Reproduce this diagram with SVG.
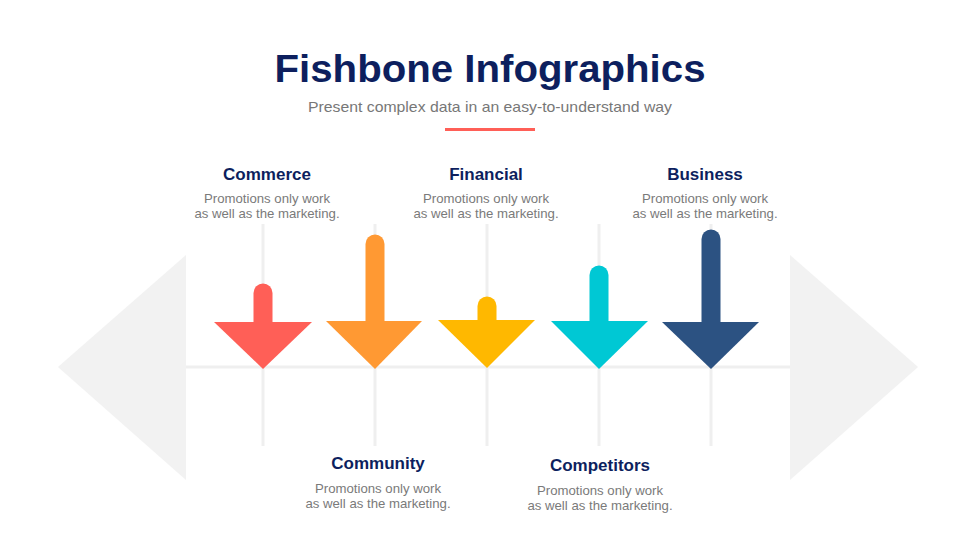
<svg xmlns="http://www.w3.org/2000/svg" width="980" height="551" viewBox="0 0 980 551">
<style>
.t{font-family:"Liberation Sans",Arial,sans-serif;text-anchor:middle}
.h{font-size:17px;font-weight:bold;fill:#0d1f5e}
.b{font-size:13.2px;fill:#7a7a7a}
.grid{stroke:#efefef;stroke-width:3;fill:none}
</style>
<rect width="980" height="551" fill="#ffffff"/>
<text class="t" x="490" y="82" font-size="39" font-weight="bold" fill="#0d1f5e" textLength="431" lengthAdjust="spacingAndGlyphs">Fishbone Infographics</text>
<text class="t" x="490" y="112" font-size="15" fill="#777777" textLength="364" lengthAdjust="spacingAndGlyphs">Present complex data in an easy-to-understand way</text>
<rect x="445" y="128" width="90" height="3" fill="#ff5f57"/>
<g id="connectors">
<polygon points="58,367 186,255 186,480" fill="#f2f2f2"/>
<polygon points="918,367 790,255 790,480" fill="#f2f2f2"/>
<line class="grid" x1="186" y1="367" x2="790" y2="367"/>
<line class="grid" x1="263" y1="224" x2="263" y2="446"/>
<line class="grid" x1="375" y1="224" x2="375" y2="446"/>
<line class="grid" x1="487" y1="224" x2="487" y2="446"/>
<line class="grid" x1="599" y1="224" x2="599" y2="446"/>
<line class="grid" x1="711" y1="224" x2="711" y2="446"/>
</g>
<g id="node-commerce">
<line x1="263" y1="293" x2="263" y2="325" stroke="#ff5f57" stroke-width="19" stroke-linecap="round"/>
<polygon points="214,322 312,322 263,369" fill="#ff5f57"/>
<text class="t h" x="267" y="180">Commerce</text>
<text class="t b" x="267" y="203">Promotions only work</text>
<text class="t b" x="267" y="218">as well as the marketing.</text>
</g>
<g id="node-community">
<line x1="375" y1="244" x2="375" y2="325" stroke="#ff9933" stroke-width="19" stroke-linecap="round"/>
<polygon points="326,321 422,321 375,369" fill="#ff9933"/>
<text class="t h" x="378" y="469">Community</text>
<text class="t b" x="378" y="493">Promotions only work</text>
<text class="t b" x="378" y="508">as well as the marketing.</text>
</g>
<g id="node-financial">
<line x1="487" y1="306" x2="487" y2="325" stroke="#ffb800" stroke-width="19" stroke-linecap="round"/>
<polygon points="438,320 535,320 487,368" fill="#ffb800"/>
<text class="t h" x="486" y="180">Financial</text>
<text class="t b" x="486" y="203">Promotions only work</text>
<text class="t b" x="486" y="218">as well as the marketing.</text>
</g>
<g id="node-competitors">
<line x1="599" y1="275" x2="599" y2="325" stroke="#00c8d4" stroke-width="19" stroke-linecap="round"/>
<polygon points="551,321 648,321 599,369" fill="#00c8d4"/>
<text class="t h" x="600" y="471">Competitors</text>
<text class="t b" x="600" y="495">Promotions only work</text>
<text class="t b" x="600" y="510">as well as the marketing.</text>
</g>
<g id="node-business">
<line x1="711" y1="239" x2="711" y2="325" stroke="#2c5282" stroke-width="19" stroke-linecap="round"/>
<polygon points="662,322 759,322 711,369" fill="#2c5282"/>
<text class="t h" x="705" y="180">Business</text>
<text class="t b" x="705" y="203">Promotions only work</text>
<text class="t b" x="705" y="218">as well as the marketing.</text>
</g>
</svg>
